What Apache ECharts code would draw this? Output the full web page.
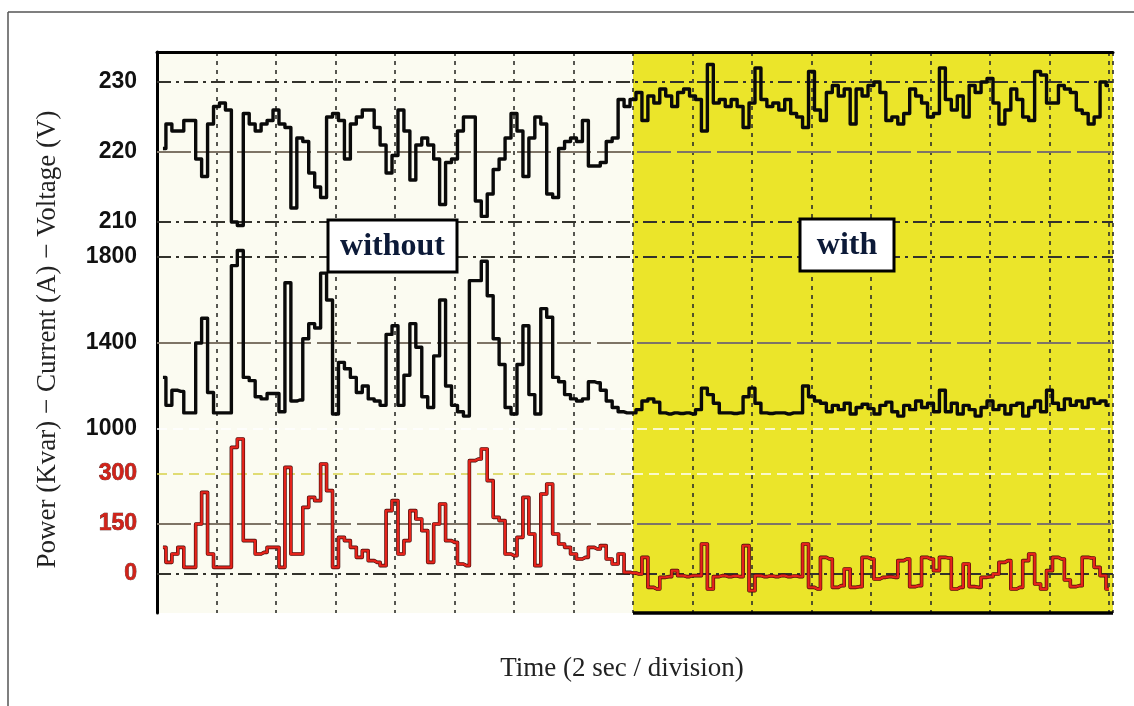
<!DOCTYPE html>
<html><head><meta charset="utf-8">
<script src="https://cdn.jsdelivr.net/npm/echarts@6/dist/echarts.min.js"></script>
<style>html,body{margin:0;padding:0;background:#fff}#c{width:1134px;height:706px}</style>
</head><body><div id="c"></div>
<script>
// ---- data (time in divisions, 1 division = 2 s) ----
const TIME_STEP = 0.1;
const compensationStart = 8; // division where "with" begins
const voltageTicks = [210, 220, 230];
const currentTicks = [1000, 1400, 1800];
const powerTicks = [0, 150, 300];

const voltage = [220.5,224,223,223,224.5,224.5,219,216.5,224,226.5,227,226,210,209.5,225.5,224,223,224,224.5,226,
224,223.5,212,222,221.5,217,215,213.5,225,225.5,224.5,219,224,225,226,226,223.5,221,217,219.5,
226,223,216,221,222,221,219,212.5,218.5,219,223,225,225,213,210.8,214,217.5,219,222,225.5,
223,216.5,222,225,224,214,213.5,220.5,221.5,222,221.5,224.5,218,218,218.5,221.5,222,227.5,226.5,227.5,
228.5,224.5,228,227,229,228,226.5,228.5,229,228,227.5,223,232.5,227,227.5,226.5,227.5,226.5,223.5,227,
232,227.5,226.5,227,226,227.5,225.5,225,223.5,231.5,226,224.5,228.5,229.5,228,229,224,229,228,229.5,
230,228.5,224.5,225,224,225.5,229,228,227,225,225.5,232,227.5,226,228,225,229.5,228.5,230,230.5,
227,224,226,229,227.5,225,224.5,231.5,231,227,227,229.5,229,228.5,226,225.5,224,225,230,229.5];

const current = [1240,1110,1180,1175,1075,1075,1400,1515,1170,1075,1075,1075,1760,1830,1240,1225,1150,1140,1165,1165,
1080,1680,1130,1135,1420,1490,1470,1725,1600,1070,1310,1280,1240,1170,1200,1140,1130,1110,1440,1480,
1110,1250,1490,1380,1150,1100,1340,1600,1200,1110,1080,1060,1690,1690,1780,1620,1420,1300,1100,1070,
1300,1480,1160,1070,1560,1520,1240,1220,1160,1140,1130,1140,1220,1215,1180,1130,1100,1080,1075,1075,
1090,1130,1140,1125,1075,1070,1075,1072,1075,1070,1090,1190,1160,1120,1075,1075,1072,1075,1150,1190,
1120,1075,1072,1075,1075,1070,1075,1075,1200,1150,1130,1120,1080,1110,1090,1120,1070,1100,1115,1095,
1070,1110,1125,1080,1060,1110,1090,1130,1100,1120,1080,1180,1080,1120,1070,1110,1090,1060,1100,1130,
1090,1110,1070,1110,1120,1060,1100,1130,1080,1180,1120,1090,1140,1110,1130,1100,1140,1120,1130,1110];

const power = [80,35,60,80,20,20,150,245,60,20,20,20,380,405,100,100,60,65,80,80,
20,320,60,60,200,230,220,330,250,20,110,100,80,50,70,40,35,25,190,220,
60,100,190,165,130,35,150,210,100,95,30,25,340,345,375,280,170,160,60,55,
110,230,120,25,240,270,120,90,80,60,45,50,80,75,85,45,30,60,5,3,
0,50,-40,-45,-10,-8,10,-5,-8,-5,-5,90,-45,-8,-5,-8,-6,-8,85,-50,
-5,-8,-6,-8,-5,-8,-6,-8,90,-40,-45,50,45,-40,-35,15,-40,-38,50,45,
-15,-10,-8,-10,40,45,-38,-35,50,45,10,50,48,-45,-40,30,-38,-40,-10,-8,
0,35,40,-45,-40,40,60,-30,-45,10,50,45,-18,-38,-35,50,48,20,-5,-45];

// ---- layout / scales ----
const G = {left:157, top:52, width:956, height:561};
const X_MAX = 956/59.5;
const V_RANGE = [230 - 531/7, 230 + 30/7];
const I_RANGE = [1800 - 356/0.215, 1800 + 205/0.215];
const P_RANGE = [-117, 1566];

const CREAM = '#fbfbf1', YELLOW = '#ebe52a';
const toPairs = arr => arr.map((v,i)=>[(i+1)*TIME_STEP, v]);

const darkDashDot = {color:'#33322c', width:1.8, type:[14,5,3,5]};
const brownLong = {color:'#7e7466', width:2, type:[34,6]};
const whiteDash = {color:'#ffffff', width:1.5, type:[10,6]};

function hline(v, style){ return {yAxis:v, lineStyle:style}; }

const chart = echarts.init(document.getElementById('c'), null, {renderer:'canvas'});
const tickFont = {fontFamily:'Liberation Sans', fontWeight:'bold', fontSize:23, margin:20, formatter: v => String(v)};

chart.setOption({
  animation:false,
  backgroundColor:'#ffffff',
  grid:[0,1,2].map(()=>Object.assign({show:false}, G)),
  xAxis:[0,1,2].map(i=>({
    gridIndex:i, type:'value', min:0, max:X_MAX, interval:1,
    position: i===0 ? 'top' : 'bottom',
    axisLine:{show:i===0, lineStyle:{color:'#000', width:3}},
    axisTick:{show:false}, axisLabel:{show:false},
    splitLine:{show:i===0, lineStyle:{color:'#2e2e2a', width:1.6, type:[4,5]}},
    z:2,
    name: i===2 ? 'Time (2 sec / division)' : '',
    nameLocation:'middle', nameGap:42,
    nameTextStyle:{fontFamily:'Liberation Serif', fontSize:27, color:'#222', padding:[0,26,0,0]}
  })),
  yAxis:[
    {gridIndex:0, type:'value', min:V_RANGE[0], max:V_RANGE[1],
     axisLine:{show:true, lineStyle:{color:'#000', width:3}}, axisTick:{show:false}, splitLine:{show:false},
     axisLabel:Object.assign({customValues:voltageTicks, color:'#111'}, tickFont),
     name:'Power (Kvar) \u2212 Current (A) \u2212 Voltage (V)', nameLocation:'middle', nameRotate:90, nameGap:96,
     nameTextStyle:{fontFamily:'Liberation Serif', fontSize:27, color:'#222', padding:[0,14,0,0]}, z:2},
    {gridIndex:1, type:'value', min:I_RANGE[0], max:I_RANGE[1],
     axisLine:{show:false}, axisTick:{show:false}, splitLine:{show:false},
     axisLabel:Object.assign({customValues:currentTicks, color:'#111'}, tickFont), z:2},
    {gridIndex:2, type:'value', min:P_RANGE[0], max:P_RANGE[1],
     axisLine:{show:false}, axisTick:{show:false}, splitLine:{show:false},
     axisLabel:Object.assign({customValues:powerTicks, color:'#d0231a', textBorderColor:'#3a0a0a', textBorderWidth:0.6}, tickFont), z:2}
  ],
  series:[
    {name:'Voltage', type:'line', xAxisIndex:0, yAxisIndex:0, data:toPairs(voltage),
     step:'middle', showSymbol:false, symbol:'none', z:10,
     lineStyle:{color:'#0a0a0a', width:3.4, join:'round'},
     markArea:{silent:true, z:1, data:[
       [{xAxis:0, itemStyle:{color:CREAM}}, {xAxis:compensationStart}],
       [{xAxis:compensationStart, itemStyle:{color:YELLOW}}, {xAxis:X_MAX}]
     ]},
     markLine:{silent:true, z:3, symbol:'none', label:{show:false}, emphasis:{disabled:true}, data:[
       hline(230, darkDashDot), hline(220, brownLong), hline(210, darkDashDot),
       [{coord:[compensationStart, V_RANGE[0]], lineStyle:{color:'#000', width:3.5, type:'solid'}}, {coord:[X_MAX, V_RANGE[0]]}]
     ]}},
    {name:'Current', type:'line', xAxisIndex:1, yAxisIndex:1, data:toPairs(current),
     step:'middle', showSymbol:false, symbol:'none', z:10,
     lineStyle:{color:'#0a0a0a', width:3.4, join:'round'},
     markLine:{silent:true, z:3, symbol:'none', label:{show:false}, emphasis:{disabled:true}, data:[
       hline(1800, darkDashDot), hline(1400, brownLong), hline(1000, whiteDash)
     ]}},
    {name:'Power outline', type:'line', xAxisIndex:2, yAxisIndex:2, data:toPairs(power),
     step:'middle', showSymbol:false, symbol:'none', z:10,
     lineStyle:{color:'#3a0808', width:3.6, join:'round'},
     markLine:{silent:true, z:3, symbol:'none', label:{show:false}, emphasis:{disabled:true}, data:[
       [{coord:[0,300], lineStyle:{color:'#d8d24a', width:1.6, type:[10,6]}}, {coord:[compensationStart,300]}],
       [{coord:[compensationStart,300], lineStyle:whiteDash}, {coord:[X_MAX,300]}],
       hline(150, brownLong), hline(0, darkDashDot)
     ]}},
    {name:'Power', type:'line', xAxisIndex:2, yAxisIndex:2, data:toPairs(power),
     step:'middle', showSymbol:false, symbol:'none', z:11,
     lineStyle:{color:'#e5231b', width:2.4, join:'round'}}
  ],
  graphic:[
    {type:'line', z:50, shape:{x1:8,y1:12,x2:1134,y2:12}, style:{stroke:'#555', lineWidth:1.5}},
    {type:'line', z:50, shape:{x1:8,y1:12,x2:8,y2:706}, style:{stroke:'#555', lineWidth:1.5}},
    {type:'rect', z:50, shape:{x:328,y:220,width:129,height:52}, style:{fill:'#fff', stroke:'#000', lineWidth:3}},
    {type:'text', z:51, style:{text:'without', x:392.5, y:247, align:'center', verticalAlign:'middle',
      fontFamily:'Liberation Serif', fontWeight:'bold', fontSize:32, fill:'#0c1a38'}},
    {type:'rect', z:50, shape:{x:800,y:219,width:94,height:52}, style:{fill:'#fff', stroke:'#000', lineWidth:3}},
    {type:'text', z:51, style:{text:'with', x:847, y:246, align:'center', verticalAlign:'middle',
      fontFamily:'Liberation Serif', fontWeight:'bold', fontSize:32, fill:'#0c1a38'}}
  ]
});
</script></body></html>
